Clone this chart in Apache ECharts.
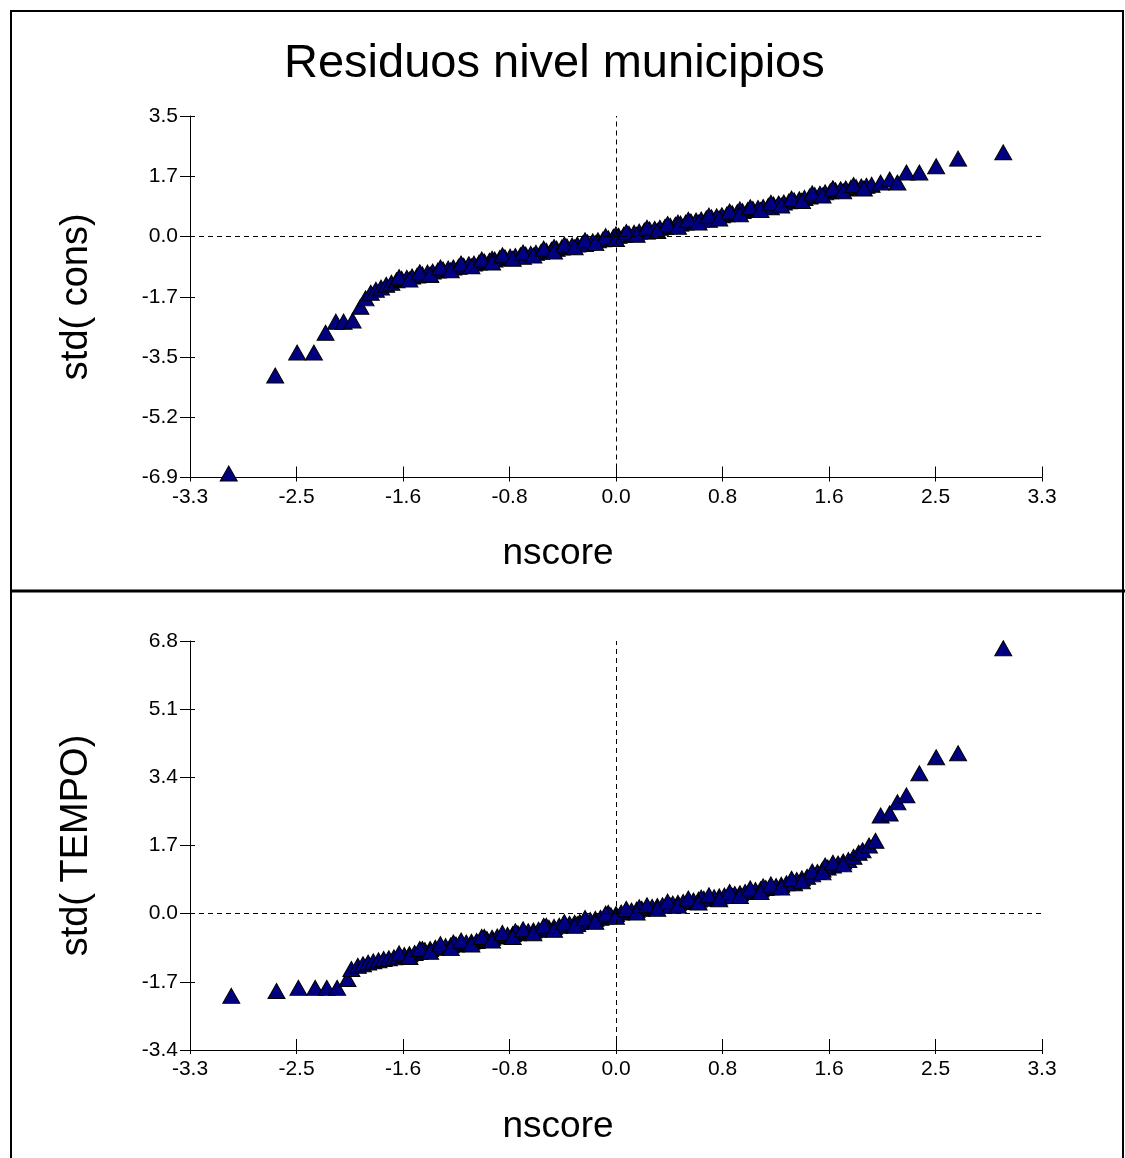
<!DOCTYPE html>
<html>
<head>
<meta charset="utf-8">
<script src="https://cdn.jsdelivr.net/npm/echarts@6/dist/echarts.min.js"></script>
<style>html,body{margin:0;padding:0;background:#fff}#main{width:1125px;height:1158px}</style>
</head>
<body>
<div id="main"></div>
<script>
// 数据：nscore / std 残差
var xTickLabels = ['-3.3', '-2.5', '-1.6', '-0.8', '0.0', '0.8', '1.6', '2.5', '3.3'];
var consTickLabels = ['-6.9', '-5.2', '-3.5', '-1.7', '0.0', '1.7', '3.5'];
var tempoTickLabels = ['-3.4', '-1.7', '0.0', '1.7', '3.4', '5.1', '6.8'];

var nscoreCons = [-3.00, -2.64, -2.47, -2.34, -2.25, -2.17, -2.11, -2.04, -1.98, -1.94, -1.90, -1.86, -1.82, -1.78, -1.74, -1.70, -1.66, -1.62, -1.58, -1.54,
  -1.50, -1.46, -1.42, -1.38, -1.34, -1.30, -1.26, -1.22, -1.18, -1.14, -1.10, -1.06, -1.02, -0.98, -0.94, -0.90, -0.86, -0.82, -0.78, -0.74,
  -0.70, -0.66, -0.62, -0.58, -0.54, -0.50, -0.46, -0.42, -0.38, -0.34, -0.30, -0.26, -0.22, -0.18, -0.14, -0.10, -0.06, -0.02, 0.02, 0.06,
  0.10, 0.14, 0.18, 0.22, 0.26, 0.30, 0.34, 0.38, 0.42, 0.46, 0.50, 0.54, 0.58, 0.62, 0.66, 0.70, 0.74, 0.78, 0.82, 0.86,
  0.90, 0.94, 0.98, 1.02, 1.06, 1.10, 1.14, 1.18, 1.22, 1.26, 1.30, 1.34, 1.38, 1.42, 1.46, 1.50, 1.54, 1.58, 1.62, 1.66,
  1.70, 1.74, 1.78, 1.82, 1.86, 1.90, 1.94, 1.98, 2.05, 2.12, 2.18, 2.25, 2.35, 2.48, 2.65, 3.00,
  -1.44, -1.20, -0.96, -0.72, -0.48, -0.24, 0.00, 0.24, 0.48, 0.72, 0.96, 1.20, 1.44, 1.68,
  -1.68, -1.60, -1.52, -1.44, -1.36, -1.28, -1.20, -1.12, -1.04, -0.96, -0.88, -0.80, -0.72, -0.64, -0.56, -0.48, -0.40, -0.32, -0.24, -0.16,
  -0.08, 0.00, 0.08, 0.16, 0.24, 0.32, 0.40, 0.48, 0.56, 0.64, 0.72, 0.80, 0.88, 0.96, 1.04, 1.12, 1.20, 1.28, 1.36, 1.44,
  1.52, 1.60, 1.68, 1.76, 1.84, 1.92];
var stdCons = [-6.82, -4.00, -3.34, -3.34, -2.77, -2.45, -2.45, -2.42, -2.02, -1.78, -1.62, -1.53, -1.47, -1.39, -1.33, -1.26, -1.22, -1.19, -1.15, -1.12,
  -1.09, -1.04, -1.01, -0.98, -0.95, -0.92, -0.89, -0.87, -0.84, -0.80, -0.78, -0.75, -0.72, -0.70, -0.66, -0.62, -0.60, -0.58, -0.56, -0.54,
  -0.52, -0.50, -0.47, -0.44, -0.41, -0.38, -0.35, -0.32, -0.29, -0.26, -0.23, -0.20, -0.17, -0.14, -0.11, -0.08, -0.05, -0.01, 0.02, 0.05,
  0.08, 0.11, 0.14, 0.17, 0.20, 0.22, 0.25, 0.28, 0.31, 0.34, 0.37, 0.40, 0.43, 0.46, 0.49, 0.52, 0.55, 0.58, 0.61, 0.64,
  0.67, 0.70, 0.73, 0.76, 0.79, 0.82, 0.85, 0.88, 0.92, 0.95, 0.98, 1.01, 1.04, 1.07, 1.11, 1.15, 1.19, 1.23, 1.27, 1.30,
  1.33, 1.36, 1.38, 1.40, 1.42, 1.44, 1.46, 1.49, 1.55, 1.64, 1.55, 1.84, 1.84, 2.02, 2.24, 2.42,
  -1.10, -0.80, -0.64, -0.58, -0.30, -0.22, 0.06, 0.14, 0.40, 0.48, 0.78, 0.84, 1.02, 1.38,
  -1.17, -1.24, -1.03, -1.10, -0.89, -0.97, -0.78, -0.86, -0.66, -0.75, -0.54, -0.64, -0.46, -0.55, -0.35, -0.43, -0.23, -0.31, -0.11, -0.19,
  0.01, -0.07, 0.13, 0.05, 0.25, 0.16, 0.36, 0.28, 0.48, 0.40, 0.60, 0.52, 0.72, 0.64, 0.84, 0.76, 0.97, 0.89, 1.09, 1.02,
  1.24, 1.18, 1.38, 1.30, 1.48, 1.38];

var nscoreTempo = [-2.98, -2.63, -2.46, -2.33, -2.24, -2.16, -2.08, -2.05, -2.00, -1.96, -1.92, -1.88, -1.84, -1.80, -1.76, -1.72, -1.68, -1.64, -1.60, -1.56,
  -1.52, -1.48, -1.44, -1.40, -1.36, -1.32, -1.28, -1.24, -1.20, -1.16, -1.12, -1.08, -1.04, -1.00, -0.96, -0.92, -0.88, -0.84, -0.80, -0.76,
  -0.72, -0.68, -0.64, -0.60, -0.56, -0.52, -0.48, -0.44, -0.40, -0.36, -0.32, -0.28, -0.24, -0.20, -0.16, -0.12, -0.08, -0.04, 0.00, 0.04,
  0.08, 0.12, 0.16, 0.20, 0.24, 0.28, 0.32, 0.36, 0.40, 0.44, 0.48, 0.52, 0.56, 0.60, 0.64, 0.68, 0.72, 0.76, 0.80, 0.84,
  0.88, 0.92, 0.96, 1.00, 1.04, 1.08, 1.12, 1.16, 1.20, 1.24, 1.28, 1.32, 1.36, 1.40, 1.44, 1.48, 1.52, 1.56, 1.60, 1.64,
  1.68, 1.72, 1.76, 1.80, 1.84, 1.88, 1.91, 1.96, 2.01, 2.05, 2.12, 2.18, 2.25, 2.35, 2.48, 2.65, 3.00,
  -1.50, -1.26, -1.02, -0.78, -0.54, -0.30, -0.06, 0.18, 0.42, 0.66, 0.90, 1.14, 1.38, 1.62,
  -1.68, -1.60, -1.52, -1.44, -1.36, -1.28, -1.20, -1.12, -1.04, -0.96, -0.88, -0.80, -0.72, -0.64, -0.56, -0.48, -0.40, -0.32, -0.24, -0.16,
  -0.08, 0.00, 0.08, 0.16, 0.24, 0.32, 0.40, 0.48, 0.56, 0.64, 0.72, 0.80, 0.88, 0.96, 1.04, 1.12, 1.20, 1.28, 1.36, 1.44,
  1.52, 1.60, 1.68, 1.76];
var stdTempo = [-2.05, -1.93, -1.85, -1.85, -1.85, -1.85, -1.63, -1.38, -1.30, -1.26, -1.22, -1.19, -1.16, -1.13, -1.11, -1.09, -1.06, -1.03, -1.01, -0.98,
  -0.95, -0.91, -0.88, -0.85, -0.83, -0.81, -0.79, -0.77, -0.74, -0.72, -0.70, -0.68, -0.65, -0.63, -0.60, -0.57, -0.55, -0.53, -0.51, -0.49,
  -0.46, -0.44, -0.42, -0.40, -0.37, -0.35, -0.33, -0.30, -0.28, -0.25, -0.23, -0.21, -0.18, -0.16, -0.13, -0.10, -0.07, -0.04, -0.01, 0.03,
  0.05, 0.08, 0.10, 0.12, 0.14, 0.17, 0.19, 0.21, 0.23, 0.25, 0.27, 0.29, 0.31, 0.33, 0.35, 0.37, 0.39, 0.41, 0.43, 0.45,
  0.47, 0.49, 0.51, 0.54, 0.56, 0.59, 0.61, 0.64, 0.66, 0.69, 0.72, 0.76, 0.80, 0.84, 0.88, 0.92, 0.98, 1.04, 1.10, 1.15,
  1.20, 1.25, 1.30, 1.34, 1.42, 1.52, 1.58, 1.70, 1.82, 2.45, 2.50, 2.78, 2.95, 3.50, 3.90, 4.00, 6.62,
  -0.88, -0.72, -0.58, -0.44, -0.30, -0.26, 0.02, 0.16, 0.20, 0.40, 0.44, 0.68, 0.76, 1.20,
  -0.99, -1.08, -0.88, -0.95, -0.76, -0.86, -0.67, -0.77, -0.58, -0.67, -0.48, -0.58, -0.39, -0.49, -0.30, -0.40, -0.21, -0.30, -0.11, -0.20,
  0.00, -0.08, 0.12, 0.03, 0.21, 0.12, 0.30, 0.20, 0.38, 0.28, 0.46, 0.36, 0.54, 0.44, 0.63, 0.54, 0.73, 0.65, 0.87, 0.81,
  1.05, 1.03, 1.27, 1.23];

var xStep = 0.825;
var consStep = 5.2 / 3;
var tempoStep = 1.7;

function zip(a, b) {
    var res = [];
    for (var i = 0; i < a.length; i++) res.push([a[i], b[i]]);
    return res;
}

var font = 'Liberation Sans, Arial, sans-serif';
var myChart = echarts.init(document.getElementById('main'), null, { renderer: 'canvas' });

function xAxisMain(grid) {
    return {
        type: 'value', gridIndex: grid, position: 'bottom',
        min: -4 * xStep, max: 4 * xStep, interval: xStep,
        axisLine: { onZero: false, lineStyle: { color: '#000', width: 1 } },
        axisTick: { inside: true, length: 11, lineStyle: { color: '#000' } },
        axisLabel: {
            color: '#000', fontSize: 21, fontFamily: font, margin: 9,
            showMinLabel: true, showMaxLabel: true,
            formatter: function (v, i) { return xTickLabels[i]; }
        },
        splitLine: { show: false },
        name: 'nscore', nameLocation: 'middle', nameGap: 58,
        nameTextStyle: { color: '#000', fontSize: 37, fontFamily: font, padding: [0, 116, 0, 0] }
    };
}
function xAxisStub(grid) {
    return {
        type: 'value', gridIndex: grid, position: 'bottom',
        min: -4 * xStep, max: 4 * xStep, interval: xStep,
        axisLine: { show: false, onZero: false },
        axisTick: { inside: false, length: 4, lineStyle: { color: '#000' } },
        axisLabel: { show: false }, splitLine: { show: false }
    };
}
function yAxisMain(grid, step, nMin, nMax, labels, name) {
    return {
        type: 'value', gridIndex: grid, position: 'left',
        min: nMin * step, max: nMax * step, interval: step,
        axisLine: { onZero: false, lineStyle: { color: '#000', width: 1 } },
        axisTick: { inside: false, length: 10, lineStyle: { color: '#000' } },
        axisLabel: {
            color: '#000', fontSize: 21, fontFamily: font, margin: 12,
            showMinLabel: true, showMaxLabel: true,
            formatter: function (v, i) { return labels[i]; }
        },
        splitLine: { show: false },
        name: name, nameLocation: 'middle', nameGap: 94, nameRotate: 90,
        nameTextStyle: { color: '#000', fontSize: 38, fontFamily: font }
    };
}
function yAxisStub(grid, step, nMin, nMax) {
    return {
        type: 'value', gridIndex: grid, position: 'left',
        min: nMin * step, max: nMax * step, interval: step,
        axisLine: { show: false, onZero: false },
        axisTick: { inside: true, length: 5, lineStyle: { color: '#000' } },
        axisLabel: { show: false }, splitLine: { show: false }
    };
}

var zeroLines = {
    silent: true, symbol: 'none', label: { show: false },
    lineStyle: { color: '#000', type: [5, 4], width: 1 },
    data: [{ yAxis: 0 }, { xAxis: 0 }]
};
var markerStyle = { color: '#000080', borderColor: '#000', borderWidth: 1, opacity: 1 };

var option = {
    animation: false,
    backgroundColor: '#fff',
    title: {
        text: 'Residuos nivel municipios',
        left: 279, top: 36,
        textStyle: { color: '#000', fontSize: 47, fontWeight: 'normal', fontFamily: font }
    },
    grid: [
        { left: 190, top: 116, width: 852, height: 361.5, outerBoundsMode: 'none' },
        { left: 190, top: 641, width: 852, height: 409, outerBoundsMode: 'none' }
    ],
    xAxis: [xAxisMain(0), xAxisMain(1), xAxisStub(0), xAxisStub(1)],
    yAxis: [
        yAxisMain(0, consStep, -4, 2, consTickLabels, 'std( cons)'),
        yAxisMain(1, tempoStep, -2, 4, tempoTickLabels, 'std( TEMPO)'),
        yAxisStub(0, consStep, -4, 2),
        yAxisStub(1, tempoStep, -2, 4)
    ],
    series: [
        {
            name: 'cons', type: 'scatter', xAxisIndex: 0, yAxisIndex: 0,
            data: zip(nscoreCons, stdCons),
            symbol: 'triangle', symbolSize: [17, 15],
            itemStyle: markerStyle, markLine: zeroLines
        },
        {
            name: 'TEMPO', type: 'scatter', xAxisIndex: 1, yAxisIndex: 1,
            data: zip(nscoreTempo, stdTempo),
            symbol: 'triangle', symbolSize: [17, 15],
            itemStyle: markerStyle, markLine: zeroLines
        }
    ],
    graphic: [
        { type: 'rect', silent: true, shape: { x: 11, y: 11, width: 1112, height: 1170 }, style: { fill: null, stroke: '#000', lineWidth: 2 } },
        { type: 'line', silent: true, shape: { x1: 11, y1: 591, x2: 1125, y2: 591 }, style: { stroke: '#000', lineWidth: 3 } }
    ]
};
myChart.setOption(option);
</script>
</body>
</html>
